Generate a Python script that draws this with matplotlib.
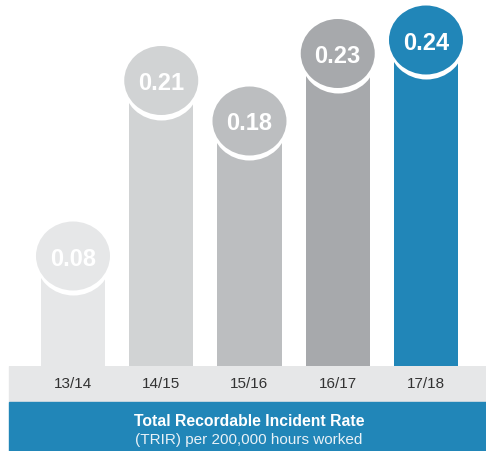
import matplotlib
matplotlib.use("Agg")
import matplotlib.pyplot as plt
from matplotlib.patches import Rectangle
from matplotlib.path import Path
from matplotlib.transforms import Affine2D
import numpy as np

plt.rcParams['font.family'] = ['Liberation Sans', 'DejaVu Sans']

# TRIR by financial year
years = ['13/14', '14/15', '15/16', '16/17', '17/18']
trir = [0.08, 0.21, 0.18, 0.23, 0.24]
colors = ['#e6e7e8', '#d1d3d4', '#bcbec0', '#a7a9ac', '#2186b8']
title = 'Total Recordable Incident Rate'
subtitle = '(TRIR) per 200,000 hours worked'

BLUE = '#2186b8'
BAND = '#e6e7e8'
PX = 1 / 1350.0      # one pixel in data units

def oval(ratio):
    # slightly flattened circle, used as scatter marker
    return Path(Affine2D().scale(1, ratio).transform(Path.unit_circle().vertices),
                Path.unit_circle().codes)

fig = plt.figure(figsize=(4.86, 4.52), dpi=100)
ax = fig.add_axes([0, 85/452, 1, 367/452])

x = np.arange(len(years))
vals = np.array(trir)
ax.bar(x, vals, width=0.727, color=colors, zorder=1)
# white crescent under each bubble, then the bubble itself
ax.scatter(x, vals - 1*PX, s=2994, marker=oval(72/76), c='white',
           linewidths=0, zorder=2, clip_on=False)
ax.scatter(x, vals + 2*PX, s=2839, marker=oval(69/74), c=colors,
           linewidths=0, zorder=3, clip_on=False)
for xi, v in zip(x, trir):
    ax.text(xi, v, f'{v:.2f}', ha='center', va='center', color='white',
            fontsize=17, fontweight='bold', zorder=4)

ax.set_xlim(-0.827, 4.68)
ax.set_ylim(0, 367*PX)
ax.set_yticks([])
ax.set_xticks(x, years)
ax.tick_params(axis='x', length=0, pad=7, labelsize=11, labelcolor='#333333')
for s in ax.spines.values():
    s.set_visible(False)

# label band and caption band under the bars
fig.add_artist(Rectangle((9/486, 49/452), 1, 36/452, transform=fig.transFigure,
                         color=BAND, zorder=0))
fig.add_artist(Rectangle((9/486, 0), 1, 49/452, transform=fig.transFigure,
                         color=BLUE, zorder=0))
fig.text(249/486, (452-422)/452, title, ha='center', va='center',
         color='white', fontsize=11.3, fontweight='bold')
fig.text(249/486, (452-440)/452, subtitle, ha='center', va='center',
         color='#e8f1f7', fontsize=11)

fig.savefig('out.png', dpi=100)
